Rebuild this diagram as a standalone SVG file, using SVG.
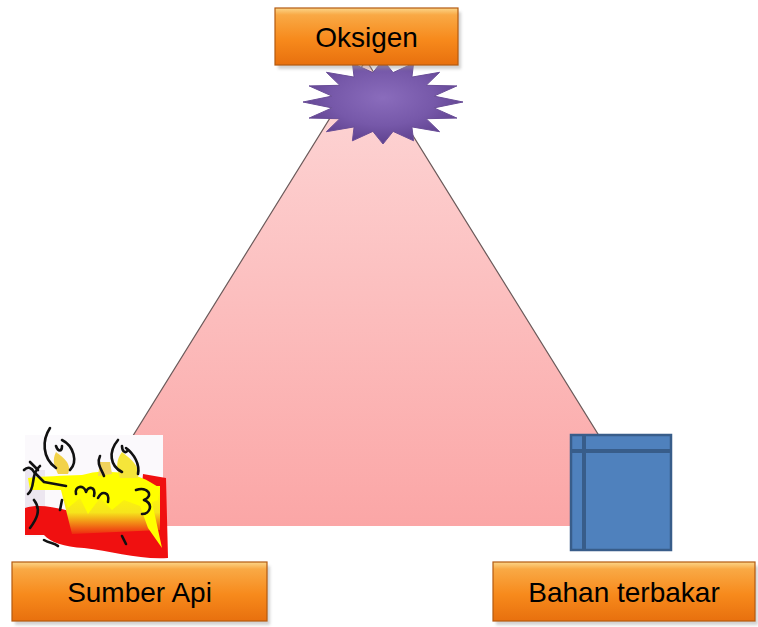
<svg xmlns="http://www.w3.org/2000/svg" width="758" height="627" viewBox="0 0 758 627">
  <defs>
    <linearGradient id="triFill" x1="0" y1="0" x2="0" y2="1">
      <stop offset="0" stop-color="#fdd8d8"/>
      <stop offset="0.5" stop-color="#fcbfbf"/>
      <stop offset="1" stop-color="#fba6a6"/>
    </linearGradient>
    <linearGradient id="orange" x1="0" y1="0" x2="0" y2="1">
      <stop offset="0" stop-color="#fbd68a"/>
      <stop offset="0.12" stop-color="#f9a945"/>
      <stop offset="0.55" stop-color="#f78a1c"/>
      <stop offset="1" stop-color="#e8700e"/>
    </linearGradient>
    <radialGradient id="starFill" cx="0.5" cy="0.45" r="0.55">
      <stop offset="0" stop-color="#8a6cbc"/>
      <stop offset="0.6" stop-color="#7658a9"/>
      <stop offset="1" stop-color="#5e418e"/>
    </radialGradient>
    <linearGradient id="flameMix" x1="0" y1="0" x2="0" y2="1">
      <stop offset="0" stop-color="#ffff00"/>
      <stop offset="0.55" stop-color="#f6e51c"/>
      <stop offset="1" stop-color="#ee2a10"/>
    </linearGradient>
    <filter id="soft" x="-10%" y="-10%" width="120%" height="130%">
      <feGaussianBlur stdDeviation="1.5"/>
    </filter>
  </defs>
  <style>
    .box { fill: url(#orange); stroke: #b45a10; stroke-width: 1.2; }
    .shadow { fill: #9a9a9a; opacity: 0.45; filter: url(#soft); }
    .label { font-family: "Liberation Sans", Arial, sans-serif; font-size: 28px; fill: #000; text-anchor: middle; }
    .ink { fill: none; stroke: #111; stroke-width: 2.6; stroke-linecap: round; stroke-linejoin: round; }
    .book { fill: #4f81bd; stroke: #385d8a; }
  </style>

  <rect width="758" height="627" fill="#ffffff"/>

  <!-- fire triangle -->
  <g id="triangle">
    <path d="M77,529 L655,529" stroke="#c9b3b3" stroke-width="4" opacity="0.5" filter="url(#soft)"/>
    <path d="M366,60 L655,526 L77,526 Z" fill="url(#triFill)"/>
    <path d="M77,526 L366,60 L655,526" fill="none" stroke="#6b5a5a" stroke-width="1.2"/>
  </g>

  <!-- oxygen star -->
  <g id="star">
    <path fill="url(#starFill)" stroke="#6a4e98" stroke-width="1" d="M463,102 L434,107.9 L456.9,118.1 L426.2,118.7 L439.6,131.7 L411.9,126.9 L413.6,140.8 L393.1,131.4 L383,144 L372.9,131.4 L352.4,140.8 L354.1,126.9 L326.4,131.7 L339.8,118.7 L309.1,118.1 L332,107.9 L303,102 L332,96.1 L309.1,85.9 L339.8,85.3 L326.4,72.3 L354.1,77.1 L352.4,63.2 L372.9,72.6 L383,60 L393.1,72.6 L413.6,63.2 L411.9,77.1 L439.6,72.3 L426.2,85.3 L456.9,85.9 L434,96.1 Z"/>
  </g>

  <!-- Oksigen label -->
  <g id="node-oksigen">
    <rect class="shadow" x="278" y="12" width="183" height="57"/>
    <rect class="box" x="275" y="8" width="183" height="57"/>
    <text class="label" x="366.5" y="47">Oksigen</text>
  </g>

  <!-- fire clip art -->
  <g id="fire">
    <rect x="25" y="435" width="138" height="102" fill="#fbf9fc"/>
    <rect x="25" y="470" width="20" height="62" fill="#ece6f0"/>
    <!-- red base -->
    <path fill="#f01010" d="M25,508 C40,503 60,508 80,514 L140,508 L143,474 L166,478 L168,558 C140,560 112,551 84,548 C64,547 50,542 44,535 L25,535 Z"/>
    <!-- mixed middle band -->
    <path fill="url(#flameMix)" d="M60,486 L160,486 L160,530 L72,534 Z"/>
    <!-- yellow body -->
    <path fill="#ffff00" d="M28,478 C44,476 62,476 82,475 C92,472 100,471 110,472 C126,472 140,476 150,482 L160,488 L158,500 L152,502 L162,548 L148,528 L140,506 L124,500 L112,510 L100,498 L88,514 L80,498 L68,508 L62,490 L30,490 Z"/>
    <!-- flame tips -->
    <path fill="#f2d24a" d="M56,452 C64,458 72,464 68,474 L58,474 C54,466 52,460 56,452 Z"/>
    <path fill="#f5e53a" d="M122,452 C132,460 140,466 138,478 L120,478 C116,468 116,460 122,452 Z"/>
    <path fill="#f0d25c" d="M100,462 L110,462 L112,474 L98,476 Z"/>
    <!-- outlines -->
    <path class="ink" d="M50,428 C42,440 42,458 56,468"/>
    <path class="ink" d="M62,440 C74,446 78,462 70,470"/>
    <path class="ink" d="M56,446 C58,452 62,452 62,446"/>
    <path class="ink" d="M40,466 C30,474 36,488 28,494"/>
    <path class="ink" d="M34,500 C42,510 36,520 30,528"/>
    <path class="ink" d="M118,440 C108,452 110,466 122,472"/>
    <path class="ink" d="M126,448 C134,454 140,464 138,474"/>
    <path class="ink" d="M122,446 C122,452 126,454 128,450"/>
    <path class="ink" d="M100,456 C96,464 102,470 104,476"/>
    <path class="ink" d="M24,470 C28,466 32,468 34,472 L44,482 L66,486"/>
    <path class="ink" d="M30,462 L38,470"/>
    <path class="ink" d="M76,494 C74,486 84,484 86,492 C88,486 96,486 94,496"/>
    <path class="ink" d="M98,498 C102,490 110,492 108,502"/>
    <path class="ink" d="M136,490 C148,486 154,496 144,500 C154,504 150,514 142,514"/>
    <path class="ink" d="M62,500 L60,510"/>
    <path class="ink" d="M122,536 L126,544"/>
    <path class="ink" d="M44,540 C50,544 54,542 58,546"/>
  </g>

  <!-- combustible material -->
  <g id="book">
    <rect class="book" x="571" y="435" width="100" height="115" stroke-width="2.5"/>
    <path d="M584,436 L584,549 M572,451 L670,451" stroke="#385d8a" stroke-width="4" fill="none"/>
  </g>

  <!-- Sumber Api label -->
  <g id="node-sumber-api">
    <rect class="shadow" x="15" y="566" width="255" height="59"/>
    <rect class="box" x="12" y="562" width="255" height="59"/>
    <text class="label" x="139.5" y="602">Sumber Api</text>
  </g>

  <!-- Bahan terbakar label -->
  <g id="node-bahan-terbakar">
    <rect class="shadow" x="496" y="566" width="262" height="59"/>
    <rect class="box" x="493" y="562" width="262" height="59"/>
    <text class="label" x="624" y="602">Bahan terbakar</text>
  </g>
</svg>
